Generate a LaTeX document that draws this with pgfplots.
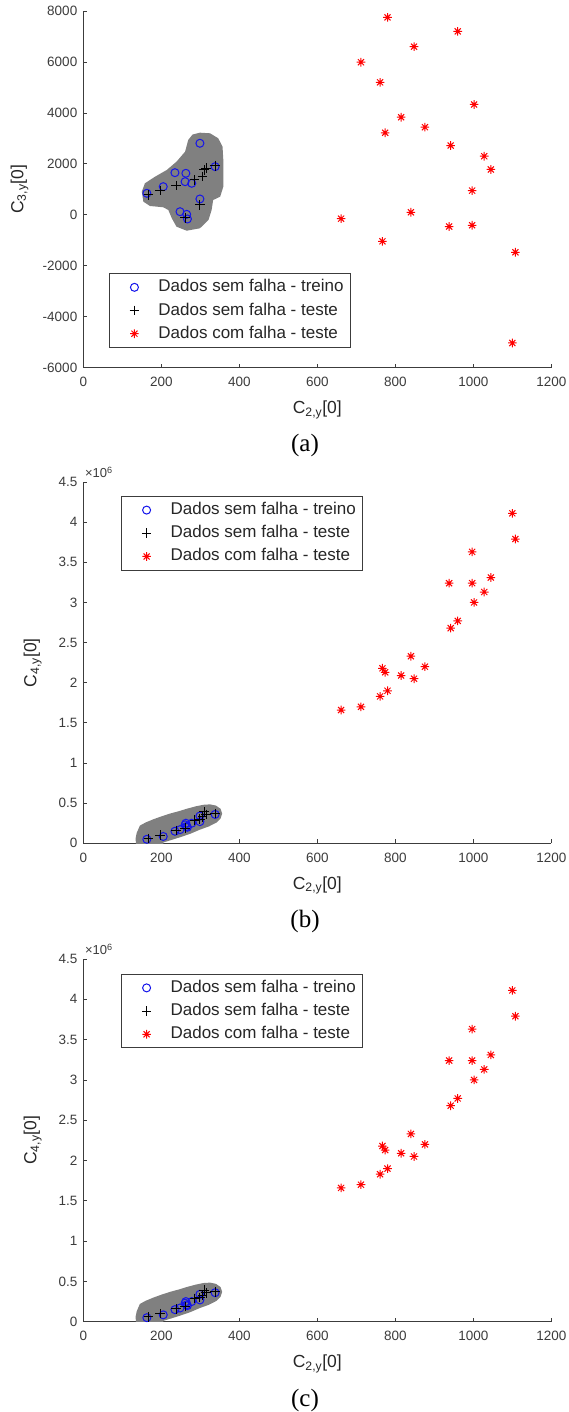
\documentclass[border=0pt]{standalone}
\usepackage{fontspec}
\setmainfont{Liberation Sans}
\newfontfamily\timesf{Liberation Serif}
\usepackage{pgfplots}
\pgfplotsset{compat=1.18}

\pgfdeclareplotmark{ast8}{%
  \pgfpathmoveto{\pgfqpoint{0pt}{\pgfplotmarksize}}\pgfpathlineto{\pgfqpoint{0pt}{-\pgfplotmarksize}}%
  \pgfpathmoveto{\pgfqpoint{\pgfplotmarksize}{0pt}}\pgfpathlineto{\pgfqpoint{-\pgfplotmarksize}{0pt}}%
  \pgfpathmoveto{\pgfqpoint{.707\pgfplotmarksize}{.707\pgfplotmarksize}}\pgfpathlineto{\pgfqpoint{-.707\pgfplotmarksize}{-.707\pgfplotmarksize}}%
  \pgfpathmoveto{\pgfqpoint{-.707\pgfplotmarksize}{.707\pgfplotmarksize}}\pgfpathlineto{\pgfqpoint{.707\pgfplotmarksize}{-.707\pgfplotmarksize}}%
  \pgfusepathqstroke}

\definecolor{mblue}{RGB}{20,20,235}
\definecolor{mgray}{RGB}{128,128,128}
\definecolor{axc}{RGB}{60,60,60}

% ---------- panel (a) data ----------
\pgfplotstableread{
x y
299 3224
325 3200
346 3004
357 2674
359 2152
359 1105
351 712
333 582
329 190
321 -203
299 -529
265 -623
239 -466
227 -137
218 190
205 296
171 347
154 516
150 908
158 1238
184 1497
214 1760
239 2086
261 2478
269 2937
280 3150
}\blobA
\pgfplotstableread{
x y
299 2808
338 1890
235 1654
263 1630
261 1301
278 1238
205 1105
163 845
299 622
248 123
265 20
267 -163
}\treinoA
\pgfplotstableread{
x y
167 779
197 947
238 1144
285 1367
306 1497
310 1760
315 1826
338 1928
299 386
261 -113
}\testeA
\pgfplotstableread{
x y
780 7750
960 7200
848 6600
712 5990
761 5200
1002 4330
815 3830
876 3440
774 3220
942 2720
1028 2300
1045 1780
997 950
840 100
661 -150
938 -460
997 -410
767 -1040
1108 -1470
1100 -5030
}\falhaA

% ---------- panel (b)/(c) data (y in units of 10^6) ----------
\pgfplotstableread{
x y
205 -0.06
136 -0.06
134 0.06
137 0.13
145 0.22
160 0.26
180 0.30
200 0.335
222 0.37
245 0.40
265 0.43
288 0.46
308 0.48
325 0.485
340 0.47
352 0.43
356 0.37
352 0.31
342 0.26
322 0.21
299 0.17
275 0.12
248 0.075
225 0.04
205 0.01
}\blobB
\pgfplotstableread{
x y
163 0.05
205 0.085
235 0.15
248 0.17
261 0.23
263 0.25
265 0.21
267 0.20
278 0.25
299 0.34
299 0.27
338 0.36
}\treinoB
\pgfplotstableread{
x y
167 0.06
197 0.10
238 0.16
285 0.29
306 0.33
310 0.39
315 0.36
338 0.37
299 0.30
261 0.19
}\testeB
\pgfplotstableread{
x y
1100 4.11
1108 3.79
997 3.63
938 3.24
997 3.24
1045 3.31
1028 3.13
1002 3.00
960 2.77
942 2.68
840 2.33
876 2.20
767 2.18
774 2.13
815 2.09
848 2.05
780 1.90
761 1.83
712 1.70
661 1.66
}\falhaB

\pgfplotsset{
  mstyle/.style={
    scale only axis, width=468pt, anchor=south west,
    axis x line*=bottom, axis y line*=left,
    xmin=0, xmax=1200, xtick={0,200,400,600,800,1000,1200},
    tick align=inside, major tick length=4pt,
    axis line style={axc, line width=0.8pt},
    tick style={axc, line width=0.8pt},
    tick label style={font=\fontsize{13.5}{16}\selectfont, text=axc},
    xticklabel style={yshift=-6pt},
    yticklabel style={xshift=-2.5pt},
    /pgf/number format/assume math mode=true,
    /pgf/number format/1000 sep={},
    label style={font=\fontsize{17.5}{20}\selectfont, text=black!85},
    xlabel={C\textsubscript{2,y}[0]},
    legend cell align=left,
    legend style={draw=axc, line width=0.8pt, fill=white,
      font=\fontsize{17}{20}\selectfont, text=black!85,
      inner xsep=3pt, inner ysep=2pt,
      nodes={inner xsep=4pt, inner ysep=3.6pt, text height=12.5pt, text depth=3.5pt},
      row sep=0pt},
    legend image code/.code={\path[draw=none,fill=none] (0pt,-3pt) rectangle (42pt,3pt);
      \draw[mark repeat=2,mark phase=2,#1] plot coordinates {(0pt,0pt) (22pt,0pt) (44pt,0pt)};},
  },
  treino/.style={only marks, mark=o, mark size=4pt, mblue, line width=1pt},
  teste/.style={only marks, mark=+, mark size=4.8pt, black, line width=1pt},
  falha/.style={only marks, mark=ast8, mark size=4.3pt, red, line width=1pt},
}

\begin{document}
\begin{tikzpicture}
\path[use as bounding box] (0pt,0pt) rectangle (568pt,-1412pt);

% ===== (a) =====
\begin{axis}[mstyle, at={(83.3pt,-367.7pt)}, height=356.7pt,
  ymin=-6000, ymax=8000, ytick={-6000,-4000,-2000,0,2000,4000,6000,8000},
  ylabel={C\textsubscript{3,y}[0]},
  xlabel style={at={(axis description cs:0.5,-0.129)}, anchor=base},
  ylabel style={at={(axis description cs:-0.128,0.5)}, anchor=base},
  legend style={at={(0.055,0.056)}, anchor=south west}]
\addplot[fill=mgray, draw=none, forget plot] table {\blobA};
\addplot[treino] table {\treinoA};
\addplot[teste] table {\testeA};
\addplot[falha] table {\falhaA};
\legend{Dados sem falha - treino, Dados sem falha - teste, Dados com falha - teste}
\end{axis}
\node[font=\timesf\fontsize{25}{28}\selectfont] at (305pt,-445pt) {(a)};

% ===== (b) =====
\begin{axis}[mstyle, name=axb, at={(83.3pt,-843.3pt)}, height=361.3pt,
  ymin=0, ymax=4.5, ytick={0,0.5,1,1.5,2,2.5,3,3.5,4,4.5},
  yticklabels={0,0.5,1,1.5,2,2.5,3,3.5,4,4.5},
  ylabel={C\textsubscript{4,y}[0]},
  xlabel style={at={(axis description cs:0.5,-0.127)}, anchor=base},
  ylabel style={at={(axis description cs:-0.100,0.5)}, anchor=base},
  legend style={at={(0.081,0.961)}, anchor=north west}]
\addplot[fill=mgray, draw=none, forget plot] table {\blobB};
\addplot[treino] table {\treinoB};
\addplot[teste] table {\testeB};
\addplot[falha] table {\falhaB};
\legend{Dados sem falha - treino, Dados sem falha - teste, Dados com falha - teste}
\end{axis}
\node[anchor=west, font=\fontsize{13}{15}\selectfont, text=axc, inner sep=0pt] at ([xshift=1.5pt,yshift=9.5pt]axb.north west) {×10\textsuperscript{6}};
\node[font=\timesf\fontsize{25}{28}\selectfont] at (305pt,-921.7pt) {(b)};

% ===== (c) =====
\begin{axis}[mstyle, name=axc, at={(83.3pt,-1321.7pt)}, height=362.7pt,
  ymin=0, ymax=4.5, ytick={0,0.5,1,1.5,2,2.5,3,3.5,4,4.5},
  yticklabels={0,0.5,1,1.5,2,2.5,3,3.5,4,4.5},
  ylabel={C\textsubscript{4,y}[0]},
  xlabel style={at={(axis description cs:0.5,-0.127)}, anchor=base},
  ylabel style={at={(axis description cs:-0.100,0.5)}, anchor=base},
  legend style={at={(0.081,0.959)}, anchor=north west}]
\addplot[fill=mgray, draw=none, forget plot] table {\blobB};
\addplot[treino] table {\treinoB};
\addplot[teste] table {\testeB};
\addplot[falha] table {\falhaB};
\legend{Dados sem falha - treino, Dados sem falha - teste, Dados com falha - teste}
\end{axis}
\node[anchor=west, font=\fontsize{13}{15}\selectfont, text=axc, inner sep=0pt] at ([xshift=1.5pt,yshift=9.5pt]axc.north west) {×10\textsuperscript{6}};
\node[font=\timesf\fontsize{25}{28}\selectfont] at (305pt,-1400pt) {(c)};
\end{tikzpicture}
\end{document}
